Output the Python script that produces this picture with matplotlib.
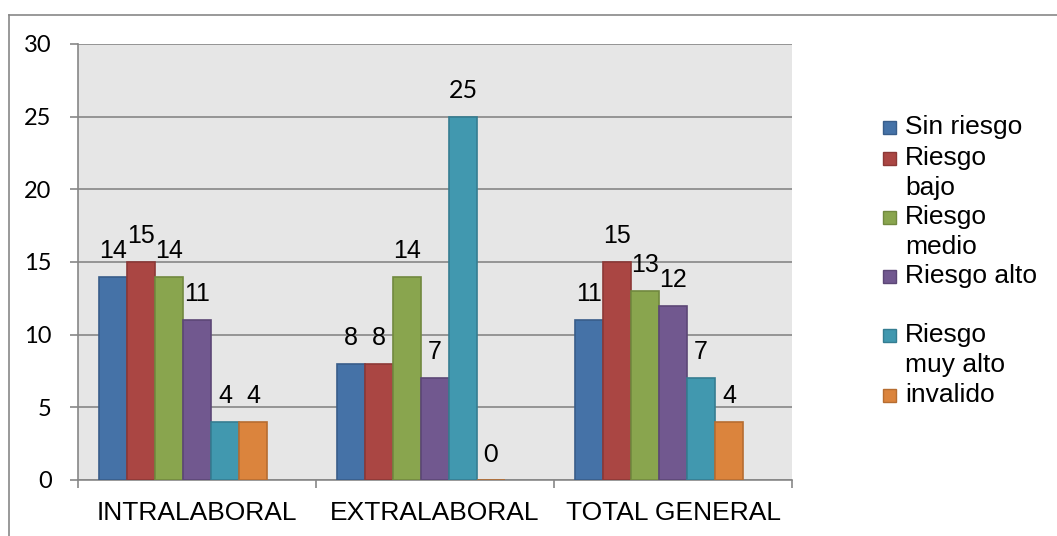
import matplotlib
matplotlib.use("Agg")
import matplotlib.pyplot as plt
from matplotlib.patches import Rectangle
from matplotlib.lines import Line2D
import numpy as np

categories = ["INTRALABORAL", "EXTRALABORAL", "TOTAL GENERAL"]
series_names = ["Sin riesgo", "Riesgo\nbajo", "Riesgo\nmedio", "Riesgo alto", "Riesgo\nmuy alto", "invalido"]
sin_riesgo = [14, 8, 11]
riesgo_bajo = [15, 8, 15]
riesgo_medio = [14, 14, 13]
riesgo_alto = [11, 7, 12]
riesgo_muy_alto = [4, 25, 7]
invalido = [4, 0, 4]
series_values = [sin_riesgo, riesgo_bajo, riesgo_medio, riesgo_alto, riesgo_muy_alto, invalido]
y_ticks = [0, 5, 10, 15, 20, 25, 30]

face_colors = ["#4572A7", "#AA4643", "#89A54E", "#71588F", "#4198AF", "#DB843D"]
edge_colors = ["#385D8A", "#8C3836", "#71893F", "#5C4776", "#357D91", "#B66D31"]

W, H = 1057, 536
fig = plt.figure(figsize=(W / 100, H / 100), dpi=100)
fig.patch.set_facecolor("white")

ax = fig.add_axes([78 / W, (H - 480) / H, (792 - 78) / W, (480 - 44) / H])
ax.set_facecolor("#E6E6E6")

n_slots = 7
bw = 1.0 / (n_slots + 1.5)
x = np.arange(len(categories))
for k, vals in enumerate(series_values):
    pos = x + (k - (n_slots - 1) / 2) * bw
    ax.bar(pos, vals, width=bw, color=face_colors[k], edgecolor=edge_colors[k],
           linewidth=1.2, zorder=3)
    for xi, v in zip(pos, vals):
        fam = "Lato" if v in (25, 0) else "Liberation Sans"
        ax.annotate(str(v), (xi, v), xytext=(0, 18.7), textcoords="offset points",
                    ha="center", va="center", fontsize=18, family=fam,
                    color="black", zorder=5, annotation_clip=False)

ax.set_xlim(-0.5, len(categories) - 0.5)
ax.set_ylim(0, 30)
ax.set_yticks(y_ticks)
ax.set_yticklabels([str(t) for t in y_ticks], family="Lato", fontsize=17)
ax.yaxis.grid(True, color="#878787", linewidth=1.2, zorder=0)
ax.set_axisbelow(True)

ax.set_xticks([-0.5, 0.5, 1.5, 2.5])
ax.set_xticklabels([])
ax.set_xticks(x, minor=True)
ax.set_xticklabels(categories, minor=True, family="Liberation Sans", fontsize=19)
ax.tick_params(axis="x", which="minor", length=0, pad=15)
ax.tick_params(axis="x", which="major", length=6, width=1.2, color="#878787", direction="out")
ax.tick_params(axis="y", length=6, width=1.2, color="#878787", direction="out", pad=13)

for s in ["top", "right"]:
    ax.spines[s].set_visible(False)
for s in ["left", "bottom"]:
    ax.spines[s].set_color("#878787")
    ax.spines[s].set_linewidth(1.2)

# outer chart border (top and left visible)
fig.add_artist(Line2D([9 / W, 1.0], [(H - 15) / H, (H - 15) / H], color="#878787", linewidth=1.2))
fig.add_artist(Line2D([9 / W, 9 / W], [(H - 15) / H, 0], color="#878787", linewidth=1.2))

# legend (manual, Excel style)
legend_y = [127, 158, 217, 276, 335, 395]
for k, name in enumerate(series_names):
    yc = legend_y[k]
    fig.add_artist(Rectangle((883 / W, (H - yc - 7) / H), 13 / W, 13 / H,
                             facecolor=face_colors[k], edgecolor=edge_colors[k],
                             linewidth=1.0, transform=fig.transFigure))
    for j, ln in enumerate(name.split("\n")):
        fig.text(905 / W, (H - yc - j * 30) / H, ln, ha="left", va="center",
                 fontsize=19, family="Liberation Sans")

fig.savefig("out.png", dpi=100)
